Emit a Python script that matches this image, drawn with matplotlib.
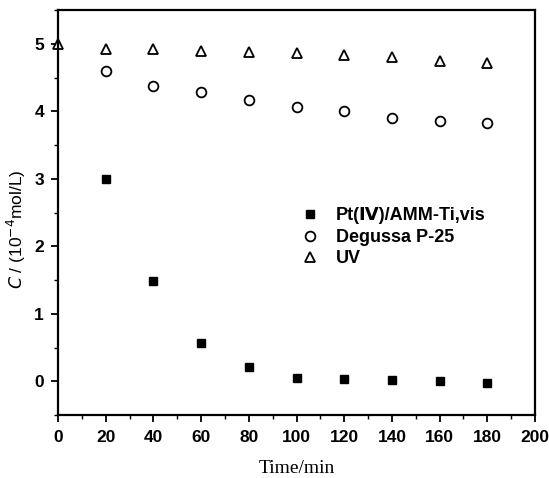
import matplotlib
matplotlib.use("Agg")
import matplotlib.pyplot as plt
from matplotlib.ticker import MultipleLocator

time_pt = [20, 40, 60, 80, 100, 120, 140, 160, 180]
conc_pt = [3.0, 1.48, 0.57, 0.21, 0.05, 0.03, 0.02, 0.0, -0.02]
time_p25 = [20, 40, 60, 80, 100, 120, 140, 160, 180]
conc_p25 = [4.6, 4.38, 4.28, 4.17, 4.06, 4.01, 3.9, 3.85, 3.83]
time_uv = [0, 20, 40, 60, 80, 100, 120, 140, 160, 180]
conc_uv = [5.0, 4.93, 4.92, 4.9, 4.88, 4.86, 4.83, 4.8, 4.75, 4.72]
labels = ["Pt(\u2163)/AMM-Ti,vis", "Degussa P-25", "UV"]

plt.rcParams['font.family'] = ['Liberation Sans', 'DejaVu Sans']
fig = plt.figure(figsize=(5.49, 4.78), dpi=100)
ax = fig.add_axes([0.1056, 0.1318, 0.869, 0.847])

ax.plot(time_pt, conc_pt, ls='none', marker='s', ms=6, mfc='black', mec='black', label=labels[0])
ax.plot(time_p25, conc_p25, ls='none', marker='o', ms=7, mfc='white', mec='black', mew=1.3, label=labels[1])
ax.plot(time_uv, conc_uv, ls='none', marker='^', ms=7, mfc='white', mec='black', mew=1.3, label=labels[2], clip_on=False)

ax.set_xlim(0, 200)
ax.set_ylim(-0.5, 5.5)
ax.xaxis.set_major_locator(MultipleLocator(20))
ax.xaxis.set_minor_locator(MultipleLocator(10))
ax.yaxis.set_major_locator(MultipleLocator(1))
ax.yaxis.set_minor_locator(MultipleLocator(0.5))
ax.tick_params(which='major', direction='out', length=5, width=1.3, labelsize=12.5)
ax.tick_params(axis='x', which='major', pad=6)
ax.tick_params(axis='y', which='major', pad=5)
ax.tick_params(which='minor', direction='out', length=3, width=1.0)
for lbl in ax.get_xticklabels() + ax.get_yticklabels():
    lbl.set_fontweight('bold')
for s in ax.spines.values():
    s.set_linewidth(1.6)

ax.set_xlabel("Time/min", fontfamily='Liberation Serif', fontsize=14)
ax.xaxis.set_label_coords(0.5, -0.11)
ax.set_ylabel(r"$C$ / (10$^{-4}$mol/L)", fontsize=12.5)
ax.yaxis.set_label_coords(-0.062, 0.46)

leg = ax.legend(loc='upper left', bbox_to_anchor=(0.48, 0.535), frameon=False,
                prop={'size': 13, 'weight': 'bold'}, handletextpad=0.6,
                labelspacing=0.25, borderpad=0.0, handlelength=1.6)

fig.savefig("out.png", dpi=100)
